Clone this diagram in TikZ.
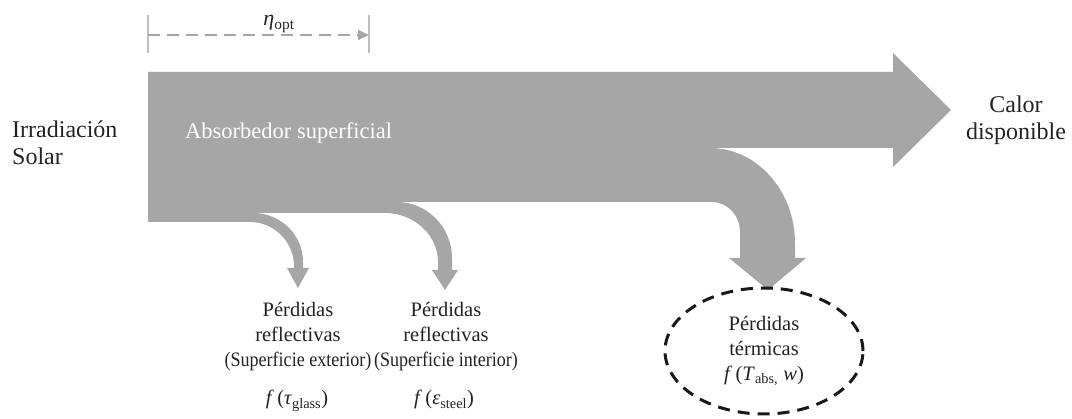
\documentclass[tikz,border=0pt]{standalone}
\usepackage{fontspec}
\usepackage{graphicx}
\setmainfont{Liberation Serif}
\usetikzlibrary{arrows.meta,shapes.geometric}
\definecolor{flow}{RGB}{166,166,166}
\definecolor{ink}{RGB}{35,35,35}
\definecolor{tick}{RGB}{190,190,190}
\newcommand{\narrowline}[1]{\scalebox{0.88}[1]{#1}}
\tikzset{
  mainlabel/.style={text=ink, font=\fontsize{24}{27}\selectfont, align=center, inner sep=0pt},
  abslabel/.style={text=white, font=\fontsize{22.5}{27}\selectfont, inner sep=0pt},
  etalabel/.style={text=ink, font=\fontsize{22}{26}\selectfont, inner sep=0pt},
  losslabel/.style={text=ink, font=\fontsize{20.5}{25}\selectfont, align=center, inner sep=0pt},
  flowshape/.style={fill=flow},
  etaarrow/.style={draw=flow, line width=1.8pt, dash pattern=on 12pt off 7pt, -{Triangle[length=11pt,width=10pt]}},
  etatick/.style={draw=tick, line width=1.4pt},
  thermal/.style={ellipse, draw=black!90, line width=3pt, dash pattern=on 12pt off 8pt,
                  minimum width=198pt, minimum height=126pt, inner sep=0pt}
}
\begin{document}
\begin{tikzpicture}[x=1pt,y=-1pt]
\useasboundingbox (0,0) rectangle (1072,419);
% main flow shape with branches
\fill[flowshape] (148,72) -- (893,72) -- (893,53) -- (951,110) -- (893,167) -- (893,148) -- (710,148)
 .. controls (757,148) and (795,191) .. (795,243) -- (795,258) -- (806,258) -- (768,290) -- (729,258) -- (740,258) -- (740,232)
 .. controls (740,215) and (727,202) .. (712,202) -- (397,202)
 .. controls (427,202) and (452,227) .. (452,258) -- (452,270) -- (458,270) -- (445,290) -- (432,270) -- (438,270) -- (438,262)
 .. controls (438,235) and (414,213) .. (385,213) -- (253,213)
 .. controls (281,213) and (303,235) .. (303,262) -- (303,268) -- (309,268) -- (298,288) -- (287,268) -- (294,268) -- (294,266)
 .. controls (294,242) and (274,222) .. (250,222) -- (148,222) -- cycle;
% eta_opt dimension
\coordinate (e0) at (148,35);
\coordinate (e1) at (369,35);
\coordinate (t0a) at (148,15); \coordinate (t0b) at (148,53);
\coordinate (t1a) at (369,15); \coordinate (t1b) at (369,53);
\draw[etatick] (t0a) -- (t0b);
\draw[etatick] (t1a) -- (t1b);
\draw[etaarrow] (e0) -- (e1);
\node[etalabel, anchor=base] (eta) at (279,26) {\textit{η}\textsubscript{opt}};
% labels
\node[mainlabel, align=left, anchor=west] (irr) at (12,143) {Irradiación\\Solar};
\node[mainlabel] (calor) at (1016,120) {Calor\\disponible};
\node[abslabel, anchor=base west] (abs) at (185,139) {Absorbedor superficial};
\node[losslabel] (ext) at (298,337) {Pérdidas\\reflectivas\\\narrowline{(Superficie exterior)}};
\node[losslabel] (int) at (446,337) {Pérdidas\\reflectivas\\\narrowline{(Superficie interior)}};
\node[losslabel, anchor=base] (fglass) at (297,405) {\textit{f}\,(\textit{τ}\textsubscript{glass})};
\node[losslabel, anchor=base] (fsteel) at (444,405) {\textit{f}\,(\textit{ε}\textsubscript{steel})};
\node[thermal, losslabel] (term) at (764,351) {Pérdidas\\térmicas\\\textit{f}\,(\textit{T}\textsubscript{abs,} \textit{w})};
\end{tikzpicture}
\end{document}
